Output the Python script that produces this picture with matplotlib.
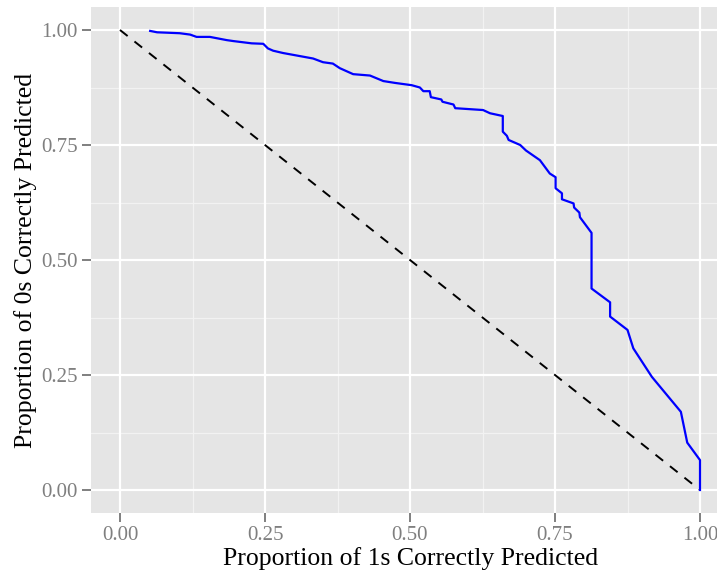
import matplotlib
matplotlib.use('Agg')
import matplotlib.pyplot as plt

# curve: proportion of 1s vs proportion of 0s correctly predicted
prop_ones = [0.052, 0.064, 0.103, 0.121, 0.132, 0.155, 0.184, 0.195, 0.227, 0.247,
             0.255, 0.264, 0.281, 0.333, 0.350, 0.367, 0.379, 0.402, 0.431, 0.454,
             0.474, 0.503, 0.517, 0.523, 0.534, 0.536, 0.554, 0.556, 0.575, 0.578,
             0.626, 0.638, 0.660, 0.660, 0.667, 0.670, 0.690, 0.700, 0.724, 0.741,
             0.751, 0.751, 0.762, 0.762, 0.782, 0.783, 0.792, 0.793, 0.813, 0.813,
             0.845, 0.845, 0.875, 0.885, 0.917, 0.967, 0.978, 1.000, 1.000]
prop_zeros = [0.998, 0.995, 0.993, 0.990, 0.985, 0.985, 0.978, 0.976, 0.971, 0.970,
              0.960, 0.955, 0.950, 0.938, 0.930, 0.927, 0.917, 0.904, 0.901, 0.889,
              0.885, 0.880, 0.875, 0.867, 0.867, 0.854, 0.849, 0.844, 0.838, 0.830,
              0.826, 0.819, 0.813, 0.779, 0.770, 0.761, 0.750, 0.738, 0.717, 0.688,
              0.680, 0.656, 0.645, 0.632, 0.623, 0.614, 0.603, 0.593, 0.559, 0.438,
              0.408, 0.377, 0.348, 0.308, 0.246, 0.170, 0.103, 0.065, 0.000]
ref_x = [0.0, 1.0]
ref_y = [1.0, 0.0]

major = [0.0, 0.25, 0.5, 0.75, 1.0]
major_labels = ['0.00', '0.25', '0.50', '0.75', '1.00']
minor = [0.125, 0.375, 0.625, 0.875]

plt.rcParams['font.family'] = ['Liberation Serif', 'DejaVu Serif']

fig = plt.figure(figsize=(7.17, 5.75), dpi=100)
ax = fig.add_axes([91 / 717, 62 / 575, 626 / 717, 506 / 575])
ax.set_facecolor('#E5E5E5')
for s in ax.spines.values():
    s.set_visible(False)

for v in minor:
    ax.axvline(v, color='#F2F2F2', lw=0.9, zorder=1)
    ax.axhline(v, color='#F2F2F2', lw=0.9, zorder=1)
for v in major:
    ax.axvline(v, color='white', lw=1.6, zorder=1)
    ax.axhline(v, color='white', lw=1.6, zorder=1)

ax.plot(ref_x, ref_y, color='black', lw=1.4, ls=(0, (5, 4.5)), zorder=3)
ax.plot(prop_ones, prop_zeros, color='#0000FF', lw=1.6, zorder=4)

ax.set_xlim(-0.05, (717 - 120) / 580)
ax.set_ylim(-0.05, 1.05)
ax.set_xticks(major)
ax.set_xticklabels(major_labels)
ax.set_yticks(major)
ax.set_yticklabels(major_labels)
ax.tick_params(colors='#7F7F7F', labelcolor='#7F7F7F', labelsize=15,
               length=6.5, width=1.4)
ax.tick_params(axis='x', pad=2.5)
ax.tick_params(axis='y', pad=3)

ax.set_xlabel('Proportion of 1s Correctly Predicted', fontsize=18.5, labelpad=1.5)
ax.set_ylabel('Proportion of 0s Correctly Predicted', fontsize=18.5, labelpad=3)
# original panel ran a bit past the right edge, so the title sits right of centre
ax.xaxis.label.set_x(0.511)

fig.savefig('out.png', dpi=100)
